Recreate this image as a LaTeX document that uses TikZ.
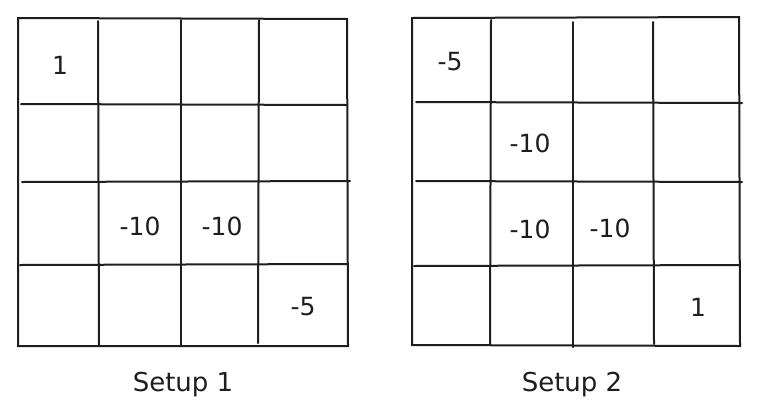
\documentclass[tikz,border=0pt]{standalone}
\usepackage{fontspec}
\setmainfont{DejaVu Sans}
\definecolor{ink}{HTML}{1E1E1E}
\tikzset{
  gridline/.style={draw=ink, line width=2pt, line cap=round},
  val/.style={font=\fontsize{25}{29}\selectfont, text=ink, inner sep=0pt},
  captext/.style={font=\fontsize{26}{30}\selectfont, text=ink, inner sep=0pt},
}
\begin{document}
\begin{tikzpicture}[x=1pt,y=-1pt]
\useasboundingbox (0,0) rectangle (762,413);
\fill[white] (0,0) rectangle (762,413);
% Grid 1
\draw[gridline] (18,18) -- (347,19) -- (348,346) -- (18,346) -- cycle;
\draw[gridline] (98,21) -- (99,345);
\draw[gridline] (181,20) -- (181,346);
\draw[gridline] (259,20) -- (258,343);
\draw[gridline] (21,104) -- (347,105);
\draw[gridline] (22,182) -- (350,181);
\draw[gridline] (20,265) -- (347,264);
\node[val] (a1) at (60,65) {1};
\node[val] (a2) at (140,226) {-10};
\node[val] (a3) at (222,226) {-10};
\node[val] (a4) at (303,307) {-5};
\node[captext] (c1) at (183,385) {Setup 1};
% Grid 2
\draw[gridline] (412,18) -- (739,17) -- (740,346) -- (412,345) -- cycle;
\draw[gridline] (491,20) -- (490,345);
\draw[gridline] (573,22) -- (573,347);
\draw[gridline] (653,22) -- (654,344);
\draw[gridline] (416,102) -- (742,103);
\draw[gridline] (416,181) -- (742,182);
\draw[gridline] (414,266) -- (739,265);
\node[val] (b1) at (450,62) {-5};
\node[val] (b2) at (530,143) {-10};
\node[val] (b3) at (530,229) {-10};
\node[val] (b4) at (610,228) {-10};
\node[val] (b5) at (698,307) {1};
\node[captext] (c2) at (572,385) {Setup 2};
\end{tikzpicture}
\end{document}
